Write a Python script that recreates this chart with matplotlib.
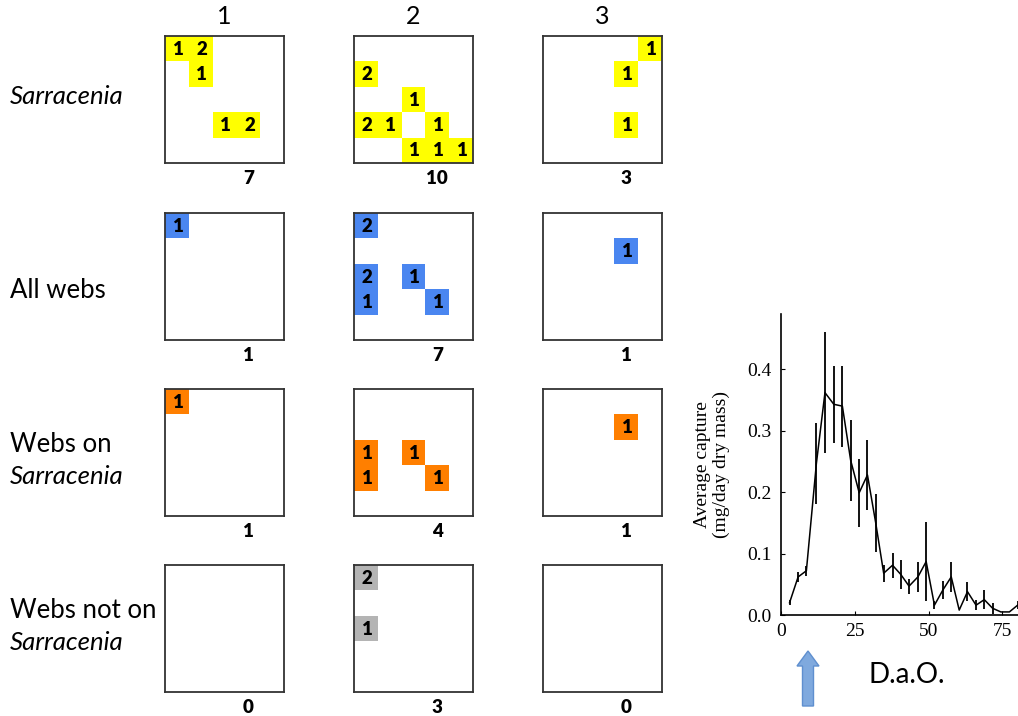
import matplotlib
matplotlib.use("Agg")
import matplotlib.pyplot as plt
from matplotlib.patches import Rectangle, FancyArrow

# grid panels: (column, row, count) of each filled cell in a 5x5 box
col_titles = ["1", "2", "3"]
row_titles = [("", "Sarracenia"), ("All webs", ""), ("Webs on", "Sarracenia"), ("Webs not on", "Sarracenia")]
row_colors = ["#FFFF00", "#4A86F0", "#FF7F00", "#B4B4B4"]

sarr_cells = [
    [(0, 0, 1), (1, 0, 2), (1, 1, 1), (2, 3, 1), (3, 3, 2)],
    [(0, 1, 2), (2, 2, 1), (0, 3, 2), (1, 3, 1), (3, 3, 1), (2, 4, 1), (3, 4, 1), (4, 4, 1)],
    [(4, 0, 1), (3, 1, 1), (3, 3, 1)],
]
webs_cells = [
    [(0, 0, 1)],
    [(0, 0, 2), (0, 2, 2), (0, 3, 1), (2, 2, 1), (3, 3, 1)],
    [(3, 1, 1)],
]
on_cells = [
    [(0, 0, 1)],
    [(0, 2, 1), (0, 3, 1), (2, 2, 1), (3, 3, 1)],
    [(3, 1, 1)],
]
off_cells = [
    [],
    [(0, 0, 2), (0, 2, 1)],
    [],
]
totals = [[7, 10, 3], [1, 7, 1], [1, 4, 1], [0, 3, 0]]
all_cells = [sarr_cells, webs_cells, on_cells, off_cells]

# capture curve (days after opening)
dao = [2.9, 5.8, 8.6, 12.0, 14.9, 17.9, 20.8, 23.6, 26.5, 29.3, 32.1, 34.8, 37.8, 40.6,
       43.4, 46.4, 49.2, 52.0, 54.9, 57.7, 60.4, 63.2, 66.1, 68.9, 71.7, 74.5, 77.4, 80.2]
capture = [0.020, 0.062, 0.072, 0.247, 0.362, 0.343, 0.340, 0.252, 0.199, 0.228, 0.150, 0.068,
           0.081, 0.066, 0.047, 0.062, 0.087, 0.016, 0.041, 0.062, 0.008, 0.038, 0.016, 0.025,
           0.011, 0.005, 0.005, 0.016]
capture_err = [0.004, 0.008, 0.008, 0.066, 0.098, 0.063, 0.066, 0.066, 0.055, 0.057, 0.047, 0.014,
               0.020, 0.023, 0.012, 0.024, 0.064, 0.007, 0.015, 0.024, 0.0, 0.015, 0.008, 0.016,
               0.009, 0.0, 0.0, 0.007]

W, H = 1018, 716
fig = plt.figure(figsize=(W / 100, H / 100), dpi=100)
sans = ["Lato", "DejaVu Sans"]

col_left = [165, 354, 543]
row_top = [36, 213, 389, 565]
bw, bh = 119, 127

for r in range(4):
    for c in range(3):
        ax = fig.add_axes([col_left[c] / W, 1 - (row_top[r] + bh) / H, bw / W, bh / H])
        ax.set_xlim(0, 5)
        ax.set_ylim(5, 0)
        ax.set_xticks([])
        ax.set_yticks([])
        for s in ax.spines.values():
            s.set_linewidth(1.3)
            s.set_color("#333333")
        for (cx, cy, n) in all_cells[r][c]:
            ax.add_patch(Rectangle((cx, cy), 1, 1, facecolor=row_colors[r], edgecolor="none"))
            ax.text(cx + 0.55, cy + 0.52, str(n), ha="center", va="center",
                    fontsize=13.5, fontweight="heavy", family=sans)
        ax.text(3.5, 5.6, str(totals[r][c]), ha="center", va="center",
                fontsize=13.5, fontweight="heavy", family=sans)
        if r == 0:
            ax.text(2.5, -0.75, col_titles[c], ha="center", va="center",
                    fontsize=18, family=sans)

# row labels
row_label_y = [97, 290, 461, 627]
for r, (plain, ital) in enumerate(row_titles):
    y = 1 - row_label_y[r] / H
    if plain and ital:
        fig.text(10 / W, y + 16 / H, plain, ha="left", va="center", fontsize=18.5, family=sans)
        fig.text(10 / W, y - 16 / H, ital, ha="left", va="center", fontsize=18.5, family=sans,
                 style="italic")
    elif ital:
        fig.text(10 / W, y, ital, ha="left", va="center", fontsize=18.5, family=sans, style="italic")
    else:
        fig.text(10 / W, y, plain, ha="left", va="center", fontsize=18.5, family=sans)

# capture chart
serif = ["Liberation Serif", "DejaVu Serif"]
axc = fig.add_axes([781 / W, 1 - 615 / H, 239 / W, 301 / H])
axc.errorbar(dao, capture, yerr=capture_err, color="black", lw=1.1, elinewidth=1.3, capsize=0)
axc.set_xlim(0, 81)
axc.set_ylim(0, 0.49)
axc.set_xticks([0, 25, 50, 75])
axc.set_yticks([0.0, 0.1, 0.2, 0.3, 0.4])
axc.set_yticklabels(["0.0", "0.1", "0.2", "0.3", "0.4"])
for s in ["top", "right"]:
    axc.spines[s].set_visible(False)
for s in ["left", "bottom"]:
    axc.spines[s].set_linewidth(1.2)
axc.tick_params(direction="in", length=3, width=0.8, labelsize=14)
axc.tick_params(axis="y", pad=7)
axc.tick_params(axis="x", pad=6)
for lab in axc.get_xticklabels() + axc.get_yticklabels():
    lab.set_family(serif)
axc.set_ylabel("Average capture\n(mg/day dry mass)", family=serif, fontsize=14, labelpad=12,
               linespacing=1.15)

# arrow and axis caption
axo = fig.add_axes([0, 0, 1, 1])
axo.set_xlim(0, W)
axo.set_ylim(H, 0)
axo.axis("off")
axo.add_patch(FancyArrow(808, 706, 0, -55, width=11, head_width=22, head_length=15,
                         length_includes_head=True, facecolor="#7FA9DE", edgecolor="#5F8FCF",
                         lw=1))
axo.text(907, 675, "D.a.O.", ha="center", va="center", fontsize=20, family=sans)

fig.savefig("out.png", dpi=100)
